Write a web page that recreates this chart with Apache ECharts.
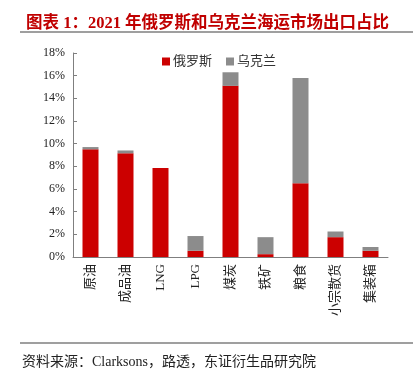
<!DOCTYPE html>
<html><head><meta charset="utf-8">
<script src="https://cdn.jsdelivr.net/npm/echarts@6/dist/echarts.min.js"></script>
<style>html,body{margin:0;padding:0;background:#fff;}#c{width:415px;height:374px;}</style>
</head><body><div id="c"></div>
<script>
const categories = ['原油','成品油','LNG','LPG','煤炭','铁矿','粮食','小宗散货','集装箱'];
const russia = [9.5, 9.15, 7.85, 0.55, 15.1, 0.25, 6.5, 1.75, 0.55];
const ukraine = [0.2, 0.25, 0, 1.3, 1.2, 1.5, 9.3, 0.5, 0.33];
const seriesNames = ['俄罗斯','乌克兰'];
const yTicks = {min: 0, max: 18, interval: 2};

const chart = echarts.init(document.getElementById('c'));
const cjk = '"Liberation Serif","Noto Sans CJK SC",serif';
chart.setOption({
  animation: false,
  title: {
    text: '图表 1：2021 年俄罗斯和乌克兰海运市场出口占比',
    left: 21, top: 10,
    textStyle: {color: '#C00000', fontSize: 16.5, fontWeight: 'bold', fontFamily: cjk}
  },
  graphic: [
    {type: 'line', shape: {x1: 20, y1: 32, x2: 413, y2: 32}, style: {stroke: '#7f7f7f', lineWidth: 1.5}},
    {type: 'line', shape: {x1: 20, y1: 343, x2: 413, y2: 343}, style: {stroke: '#7f7f7f', lineWidth: 1.5}},
    {type: 'text', left: 22, top: 355, style: {text: '资料来源：Clarksons，路透，东证衍生品研究院', fill: '#222', font: '14px "Liberation Serif","Noto Sans CJK SC",serif'}}
  ],
  legend: {
    left: 157, top: 50, itemWidth: 8, itemHeight: 8, itemGap: 14, icon: 'rect',
    textStyle: {fontSize: 13, color: '#333', fontFamily: cjk, padding: [0,0,0,-2]},
    data: seriesNames
  },
  grid: {left: 73, right: 27, top: 53, bottom: 117},
  xAxis: {
    type: 'category', data: categories,
    axisLine: {lineStyle: {color: '#7f7f7f'}},
    axisTick: {inside: true, length: 4, lineStyle: {color: '#7f7f7f'}},
    axisLabel: {rotate: 90, fontSize: 13, color: '#222', fontFamily: cjk, margin: 7}
  },
  yAxis: {
    type: 'value', min: yTicks.min, max: yTicks.max, interval: yTicks.interval,
    splitLine: {show: false},
    axisLine: {show: true, lineStyle: {color: '#7f7f7f'}},
    axisTick: {show: true, inside: true, length: 4, lineStyle: {color: '#7f7f7f'}},
    axisLabel: {formatter: '{value}%', fontSize: 12, color: '#222', fontFamily: cjk, margin: 8}
  },
  series: [
    {name: seriesNames[0], type: 'bar', stack: 'a', data: russia, barWidth: 16, itemStyle: {color: '#CC0000'}},
    {name: seriesNames[1], type: 'bar', stack: 'a', data: ukraine, barWidth: 16, itemStyle: {color: '#8C8C8C'}}
  ]
});
</script></body></html>
